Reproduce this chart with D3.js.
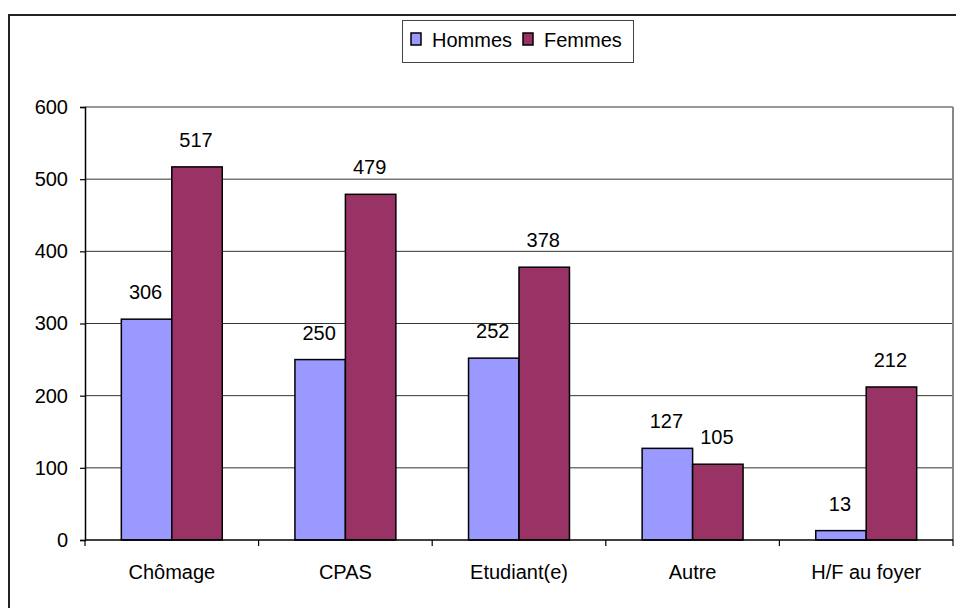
<!DOCTYPE html>
<html>
<head>
<meta charset="utf-8">
<script src="https://cdn.jsdelivr.net/npm/d3@7"></script>
<style>
  body { margin: 0; background: #fff; }
  text { font-family: "Liberation Sans", Arial, sans-serif; fill: #000; }
</style>
</head>
<body>
<div id="chart"></div>
<script>
// data
var categories = ["Chômage", "CPAS", "Etudiant(e)", "Autre", "H/F au foyer"];
var seriesNames = ["Hommes", "Femmes"];
var hommes = [306, 250, 252, 127, 13];
var femmes = [517, 479, 378, 105, 212];
var yTicks = [0, 100, 200, 300, 400, 500, 600];
var colors = ["#9999ff", "#993366"];

var width = 956, height = 608;
var plot = { left: 85, right: 953, top: 107, bottom: 540 };

var svg = d3.select("#chart")
    .append("svg")
    .attr("width", width)
    .attr("height", height);

// outer frame (runs off the right and bottom edge)
svg.append("rect")
    .attr("x", 9).attr("y", 15)
    .attr("width", 1000).attr("height", 700)
    .attr("fill", "none")
    .attr("stroke", "#222")
    .attr("stroke-width", 2);

var x0 = d3.scaleBand()
    .domain(categories)
    .range([plot.left, plot.right])
    .paddingInner(0);

var x1 = d3.scaleBand()
    .domain(seriesNames)
    .range([0, x0.bandwidth()])
    .paddingInner(0)
    .paddingOuter(0.72);

var y = d3.scaleLinear()
    .domain([0, 600])
    .range([plot.bottom, plot.top]);

// gridlines
svg.append("g")
    .selectAll("line")
    .data(yTicks.filter(function(d){ return d > 0; }))
    .enter()
    .append("line")
    .attr("x1", plot.left).attr("x2", plot.right)
    .attr("y1", function(d){ return y(d); })
    .attr("y2", function(d){ return y(d); })
    .attr("stroke", "#333")
    .attr("stroke-width", 1);

// plot area right border
svg.append("line")
    .attr("x1", plot.right).attr("x2", plot.right)
    .attr("y1", plot.top).attr("y2", plot.bottom)
    .attr("stroke", "#888")
    .attr("stroke-width", 2);

// bars
var rows = categories.map(function(c, i){
    return { cat: c, values: [hommes[i], femmes[i]] };
});

var groups = svg.append("g")
    .selectAll("g")
    .data(rows)
    .enter()
    .append("g")
    .attr("transform", function(d){ return "translate(" + x0(d.cat) + ",0)"; });

groups.selectAll("rect")
    .data(function(d){
        return d.values.map(function(v, j){ return { name: seriesNames[j], value: v, idx: j }; });
    })
    .enter()
    .append("rect")
    .attr("x", function(d){ return x1(d.name); })
    .attr("y", function(d){ return y(d.value); })
    .attr("width", x1.bandwidth())
    .attr("height", function(d){ return y(0) - y(d.value); })
    .attr("fill", function(d){ return colors[d.idx]; })
    .attr("stroke", "#000")
    .attr("stroke-width", 1.5);

groups.selectAll("text.val")
    .data(function(d){
        return d.values.map(function(v, j){ return { name: seriesNames[j], value: v }; });
    })
    .enter()
    .append("text")
    .attr("class", "val")
    .attr("x", function(d){ return x1(d.name) + x1.bandwidth() / 2 - 1; })
    .attr("y", function(d){ return y(d.value) - 20; })
    .attr("text-anchor", "middle")
    .attr("font-size", 20)
    .text(function(d){ return d.value; });

// y axis
var yAxis = d3.axisLeft(y)
    .tickValues(yTicks)
    .tickSize(5)
    .tickPadding(12)
    .tickFormat(d3.format("d"));

var gy = svg.append("g")
    .attr("transform", "translate(" + plot.left + ",0)")
    .call(yAxis);
gy.select(".domain").attr("stroke", "#000").attr("stroke-width", 1.5);
gy.selectAll(".tick line").attr("stroke", "#000").attr("stroke-width", 1.2);
gy.selectAll(".tick text")
    .attr("font-size", 20)
    .attr("font-family", "Liberation Sans, Arial, sans-serif")
    .attr("fill", "#000");

// x axis: ticks on category boundaries, labels centered
var xAxis = d3.axisBottom(x0).tickSize(0).tickPadding(25);
var gx = svg.append("g")
    .attr("transform", "translate(0," + plot.bottom + ")")
    .call(xAxis);
gx.select(".domain").remove();
gx.selectAll(".tick text")
    .attr("font-size", 20)
    .attr("font-family", "Liberation Sans, Arial, sans-serif")
    .attr("fill", "#000");

svg.append("line")
    .attr("x1", plot.left).attr("x2", plot.right)
    .attr("y1", plot.bottom).attr("y2", plot.bottom)
    .attr("stroke", "#000")
    .attr("stroke-width", 1.5);

var bounds = categories.map(function(c){ return x0(c); }).concat([plot.right]);
svg.append("g")
    .selectAll("line")
    .data(bounds)
    .enter()
    .append("line")
    .attr("x1", function(d){ return d; }).attr("x2", function(d){ return d; })
    .attr("y1", plot.bottom).attr("y2", plot.bottom + 6)
    .attr("stroke", "#000")
    .attr("stroke-width", 1.2);

// legend
var legend = svg.append("g");
legend.append("rect")
    .attr("x", 402.5).attr("y", 20.5)
    .attr("width", 231).attr("height", 42)
    .attr("fill", "#fff")
    .attr("stroke", "#444")
    .attr("stroke-width", 1);

var legendX = [411, 523];
seriesNames.forEach(function(name, i){
    legend.append("rect")
        .attr("x", legendX[i]).attr("y", 33)
        .attr("width", 10).attr("height", 12)
        .attr("fill", colors[i])
        .attr("stroke", "#000")
        .attr("stroke-width", 1.5);
    legend.append("text")
        .attr("x", legendX[i] + 21)
        .attr("y", 47)
        .attr("font-size", 20)
        .text(name);
});
</script>
</body>
</html>
